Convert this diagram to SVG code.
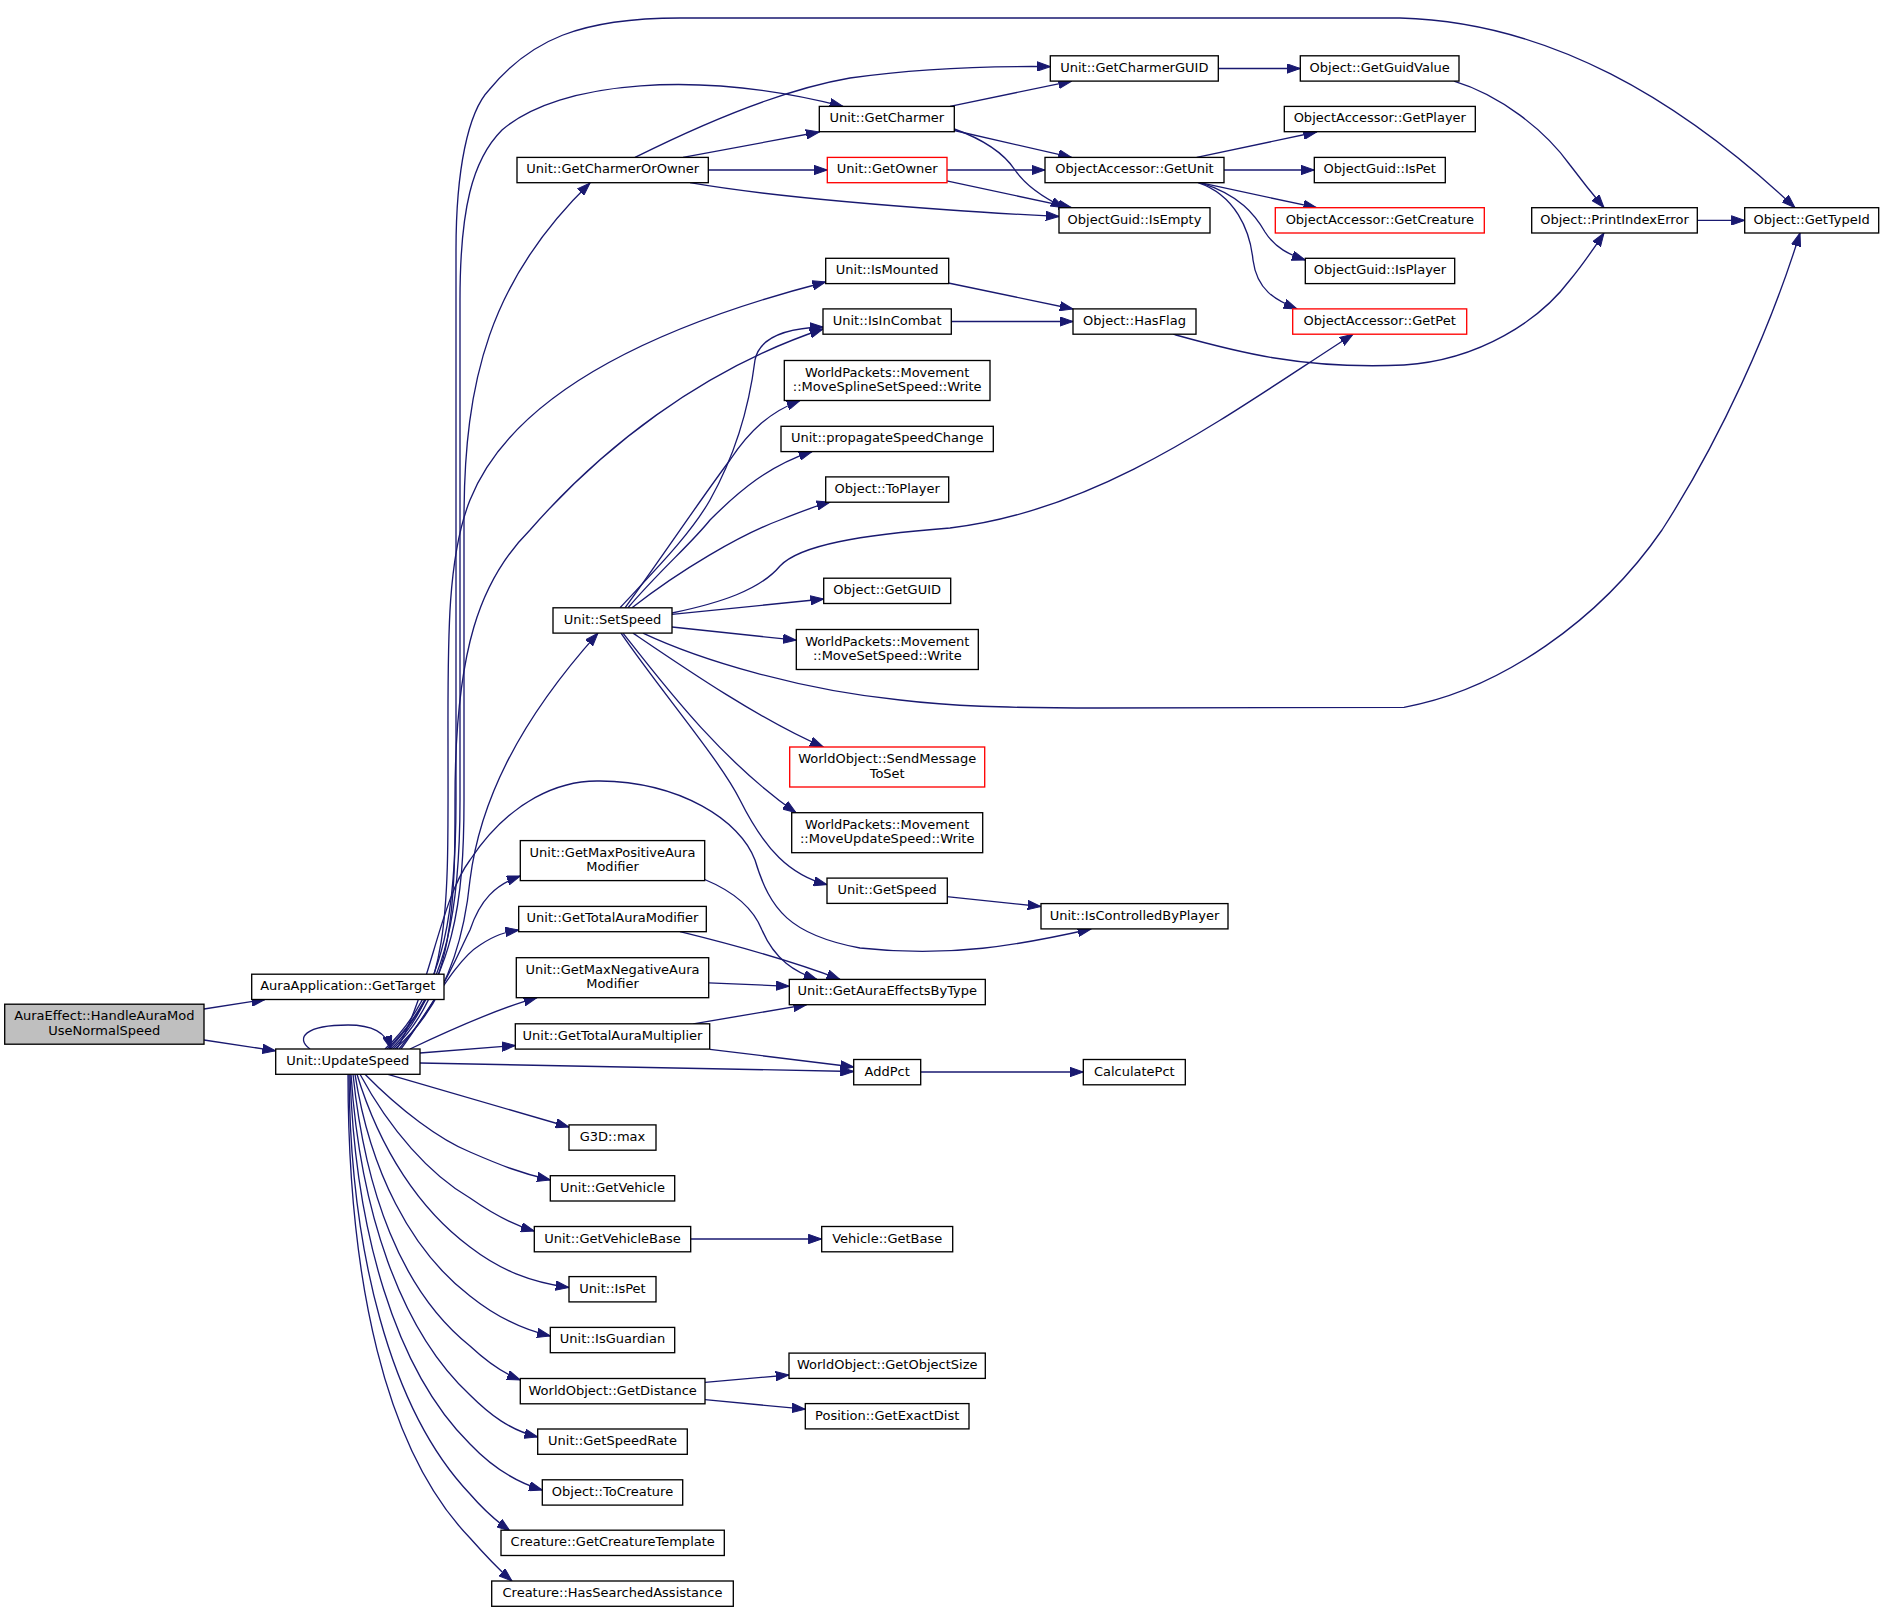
<svg xmlns="http://www.w3.org/2000/svg" width="1884" height="1613" viewBox="0 0 1884 1613">
<style>
.n rect{fill:#ffffff;stroke:#000000;stroke-width:1.33}
.n.r rect{stroke:#ff0000}
.n.root rect{fill:#bfbfbf}
.n text{font-family:"DejaVu Sans",sans-serif;font-size:13px;text-anchor:middle;fill:#000000}
#edges path{fill:none;stroke:#191970;stroke-width:1.33;marker-end:url(#ah)}
</style>
<defs>
<marker id="ah" viewBox="0 0 14 10" refX="13.3" refY="5" markerWidth="14" markerHeight="10" markerUnits="userSpaceOnUse" orient="auto"><path d="M0,0.33 L13.3,5 L0,9.67 Z" fill="#191970" stroke="#191970" stroke-width="1"/></marker>
</defs>
<rect width="1884" height="1613" fill="#ffffff"/>
<g id="edges">
<path d="M204,1009 L265,999.5"/>
<path d="M204,1040 L275.7,1050.8"/>
<path d="M310,1049 C295,1038 305,1025 348,1025 C372,1025 386,1032 391,1049"/>
<path d="M389,1049 C455,980 464,900 464,800 L464,520 C464,380 490,280 590,183"/>
<path d="M387,1049 C450,990 460,900 460,800 L460,300 C460,210 472,160 502,130 C560,80 700,70 843,106.4"/>
<path d="M385,1049 C448,990 456,900 456,800 L456,250 C456,170 468,112 489,90 C530,40 580,18 680,18 L1400,18 C1550,22 1680,100 1795,207.7"/>
<path d="M391,1049 C452,990 448,900 448,750 C448,650 446,560 470,500 C510,400 640,330 825.7,282"/>
<path d="M393,1049 C455,990 455,900 455,800 C455,650 480,580 530,530 C600,450 700,370 823,329"/>
<path d="M395,1049 C440,1010 463,950 470,880 C480,800 520,720 598,633.1"/>
<path d="M397,1049 C430,990 440,900 470,860 C510,800 560,780 600,781 C680,782 740,820 755,860 C770,910 790,935 860,948 C950,958 1020,945 1091,929"/>
<path d="M399,1049 C440,1000 455,960 470,930 C480,900 495,885 520.3,876"/>
<path d="M401,1049 C430,1010 455,960 480,945 C495,935 505,932 518.7,930"/>
<path d="M410,1049 C450,1030 500,1008 537,997.6"/>
<path d="M420,1053 L515.3,1045.5"/>
<path d="M420,1063 C600,1066 750,1070 853.7,1071.5"/>
<path d="M388,1074.3 C450,1092 510,1110 569,1127"/>
<path d="M365,1074.3 C400,1110 440,1140 470,1152 C500,1165 520,1173 550.3,1180"/>
<path d="M360,1074.3 C390,1130 430,1175 470,1198 C490,1212 510,1224 534.3,1231"/>
<path d="M357,1074.3 C380,1150 420,1210 470,1247 C500,1270 530,1282 569,1287.5"/>
<path d="M355,1074.3 C370,1170 410,1250 470,1296 C495,1316 520,1329 550.3,1336"/>
<path d="M353,1074.3 C365,1190 400,1290 470,1346 C485,1360 500,1372 520.3,1380"/>
<path d="M351,1074.3 C360,1210 400,1330 470,1395 C490,1415 510,1430 537.7,1437"/>
<path d="M350,1074.3 C355,1230 395,1370 470,1444 C490,1465 515,1482 542.3,1490"/>
<path d="M349,1074.3 C350,1250 390,1410 470,1494 C482,1508 495,1520 510,1531"/>
<path d="M348,1074.3 C348,1280 385,1450 470,1538 C485,1555 497,1568 512,1581"/>
<path d="M635,157.4 C700,125 780,90 850,78 C920,68 990,66 1050.3,66.6"/>
<path d="M683,157.4 L819.3,132"/>
<path d="M708.3,170 L827.3,170"/>
<path d="M690,182.7 C760,195 880,205 950,210 C990,213 1030,215 1059,216.5"/>
<path d="M950,106.4 L1071.7,81.1"/>
<path d="M954.3,130.5 L1071.7,157.4"/>
<path d="M954.3,129 C985,140 1005,155 1015,170 C1025,185 1040,196 1064,207.7"/>
<path d="M947,170 L1045,170"/>
<path d="M946.7,180.8 L1071.7,207.7"/>
<path d="M1196.7,157.4 L1316.7,132"/>
<path d="M1224,170 L1314.3,170"/>
<path d="M1200,182.7 L1316.7,207.7"/>
<path d="M1200,182.7 C1240,195 1255,215 1265,232 C1275,248 1290,255 1305.3,260"/>
<path d="M1198,182.7 C1235,195 1250,230 1253,260 C1257,290 1275,300 1297,308.9"/>
<path d="M1218.3,68.5 L1300.3,68.5"/>
<path d="M1454,81.1 C1500,95 1545,130 1570,165 C1585,185 1595,197 1604,207.7"/>
<path d="M1697.3,220.4 L1744.7,220.4"/>
<path d="M1173,334.2 C1230,350 1300,370 1404,365 C1480,360 1540,320 1570,280 C1585,262 1596,245 1604,233"/>
<path d="M948.3,283 L1073,309"/>
<path d="M951.3,321.5 L1073,321.5"/>
<path d="M946.7,896.7 L1041,906.5"/>
<path d="M704.7,879.5 C730,890 752,905 762,930 C775,960 795,972 817,979.4"/>
<path d="M680,931.7 C730,944 790,960 840,979.4"/>
<path d="M708.7,982.8 L789.3,986.3"/>
<path d="M693.3,1023.8 L806.7,1004.7"/>
<path d="M710,1049.3 L853.7,1067"/>
<path d="M920.7,1072 L1083.3,1072"/>
<path d="M690.7,1239 L821.7,1239"/>
<path d="M705,1382.3 L789,1375"/>
<path d="M705,1399.7 L805.3,1409.2"/>
<path d="M620,607.8 C655,570 690,535 710,500 C738,450 750,400 755,360 C760,335 790,328 823,327"/>
<path d="M625,607.8 C660,560 700,500 730,460 C750,430 770,412 800,400.5"/>
<path d="M628,607.8 C660,570 690,545 710,520 C740,490 770,465 812,451.6"/>
<path d="M632,607.8 C680,570 740,535 780,520 C800,512 815,506 830,502.2"/>
<path d="M672,613 C720,603 760,590 780,566 C800,545 860,535 950,528 C1100,510 1220,420 1353,334.2"/>
<path d="M672,614.4 L823.7,599"/>
<path d="M672,627 L796.3,640.2"/>
<path d="M643,633.1 C700,660 800,690 900,700 C950,706 1000,708 1100,708 L1404,707.3 C1500,690 1600,620 1662,530 C1720,440 1770,330 1800,233"/>
<path d="M633,633.1 C680,665 760,720 823.3,747"/>
<path d="M623,633.1 C660,680 720,760 796,812.7"/>
<path d="M621,633.1 C660,690 720,760 740,800 C765,850 790,875 827,884.7"/>
</g>
<g id="n_root" class="n root"><rect x="4.7" y="1004.2" width="199.3" height="40"/><text x="104.3" y="1020.2">AuraEffect::HandleAuraMod</text><text x="104.3" y="1034.9">UseNormalSpeed</text></g>
<g id="n_target" class="n"><rect x="251.7" y="974.2" width="192.3" height="25.3"/><text x="347.8" y="990.2">AuraApplication::GetTarget</text></g>
<g id="n_update" class="n"><rect x="275.7" y="1049" width="144.3" height="25.3"/><text x="347.8" y="1065">Unit::UpdateSpeed</text></g>
<g id="n_cho" class="n"><rect x="517" y="157.4" width="191.3" height="25.3"/><text x="612.7" y="173.4">Unit::GetCharmerOrOwner</text></g>
<g id="n_charmer" class="n"><rect x="819.3" y="106.4" width="135" height="25.3"/><text x="886.8" y="122.4">Unit::GetCharmer</text></g>
<g id="n_cguid" class="n"><rect x="1050.3" y="55.8" width="168" height="25.3"/><text x="1134.3" y="71.8">Unit::GetCharmerGUID</text></g>
<g id="n_guidval" class="n"><rect x="1300.3" y="55.8" width="158.7" height="25.3"/><text x="1379.7" y="71.8">Object::GetGuidValue</text></g>
<g id="n_getplayer" class="n"><rect x="1284.3" y="106.4" width="191" height="25.3"/><text x="1379.8" y="122.4">ObjectAccessor::GetPlayer</text></g>
<g id="n_owner" class="n r"><rect x="827.3" y="157.4" width="119.7" height="25.3"/><text x="887.2" y="173.4">Unit::GetOwner</text></g>
<g id="n_getunit" class="n"><rect x="1045" y="157.4" width="179" height="25.3"/><text x="1134.5" y="173.4">ObjectAccessor::GetUnit</text></g>
<g id="n_guidispet" class="n"><rect x="1314.3" y="157.4" width="131" height="25.3"/><text x="1379.8" y="173.4">ObjectGuid::IsPet</text></g>
<g id="n_isempty" class="n"><rect x="1059" y="207.7" width="151" height="25.3"/><text x="1134.5" y="223.7">ObjectGuid::IsEmpty</text></g>
<g id="n_getcreature" class="n r"><rect x="1275.3" y="207.7" width="209" height="25.3"/><text x="1379.8" y="223.7">ObjectAccessor::GetCreature</text></g>
<g id="n_printidx" class="n"><rect x="1531.7" y="207.7" width="165.6" height="25.3"/><text x="1614.5" y="223.7">Object::PrintIndexError</text></g>
<g id="n_typeid" class="n"><rect x="1744.7" y="207.7" width="134" height="25.3"/><text x="1811.7" y="223.7">Object::GetTypeId</text></g>
<g id="n_ismounted" class="n"><rect x="825.7" y="258.3" width="123" height="25.3"/><text x="887.2" y="274.3">Unit::IsMounted</text></g>
<g id="n_isplayer" class="n"><rect x="1305.3" y="258.3" width="149.4" height="25.3"/><text x="1380" y="274.3">ObjectGuid::IsPlayer</text></g>
<g id="n_isincombat" class="n"><rect x="823" y="308.9" width="128.3" height="25.3"/><text x="887.2" y="324.9">Unit::IsInCombat</text></g>
<g id="n_hasflag" class="n"><rect x="1073" y="308.9" width="123" height="25.3"/><text x="1134.5" y="324.9">Object::HasFlag</text></g>
<g id="n_getpet" class="n r"><rect x="1292.7" y="308.9" width="174" height="25.3"/><text x="1379.7" y="324.9">ObjectAccessor::GetPet</text></g>
<g id="n_msss" class="n"><rect x="784.3" y="360.5" width="205.7" height="40"/><text x="887.2" y="376.5">WorldPackets::Movement</text><text x="887.2" y="391.2">::MoveSplineSetSpeed::Write</text></g>
<g id="n_prop" class="n"><rect x="781" y="426.3" width="212.3" height="25.3"/><text x="887.2" y="442.3">Unit::propagateSpeedChange</text></g>
<g id="n_toplayer" class="n"><rect x="825.7" y="476.9" width="123" height="25.3"/><text x="887.2" y="492.9">Object::ToPlayer</text></g>
<g id="n_getguid" class="n"><rect x="823.7" y="578.2" width="127" height="25.3"/><text x="887.2" y="594.2">Object::GetGUID</text></g>
<g id="n_setspeed" class="n"><rect x="553" y="607.8" width="119" height="25.3"/><text x="612.5" y="623.8">Unit::SetSpeed</text></g>
<g id="n_mss" class="n"><rect x="796.3" y="629.5" width="182" height="40"/><text x="887.3" y="645.5">WorldPackets::Movement</text><text x="887.3" y="660.2">::MoveSetSpeed::Write</text></g>
<g id="n_sendmsg" class="n r"><rect x="789.7" y="747" width="195" height="40"/><text x="887.2" y="763">WorldObject::SendMessage</text><text x="887.2" y="777.7">ToSet</text></g>
<g id="n_mus" class="n"><rect x="791.7" y="812.7" width="191" height="40"/><text x="887.2" y="828.7">WorldPackets::Movement</text><text x="887.2" y="843.4">::MoveUpdateSpeed::Write</text></g>
<g id="n_getspeed" class="n"><rect x="827" y="878.1" width="120.3" height="25.3"/><text x="887.2" y="894.1">Unit::GetSpeed</text></g>
<g id="n_icbp" class="n"><rect x="1041" y="903.6" width="187" height="25.3"/><text x="1134.5" y="919.6">Unit::IsControlledByPlayer</text></g>
<g id="n_maxpos" class="n"><rect x="520.3" y="840.6" width="184.4" height="40"/><text x="612.5" y="856.6">Unit::GetMaxPositiveAura</text><text x="612.5" y="871.3">Modifier</text></g>
<g id="n_totalmod" class="n"><rect x="518.7" y="906.4" width="187.6" height="25.3"/><text x="612.5" y="922.4">Unit::GetTotalAuraModifier</text></g>
<g id="n_maxneg" class="n"><rect x="516.3" y="957.7" width="192.4" height="40"/><text x="612.5" y="973.7">Unit::GetMaxNegativeAura</text><text x="612.5" y="988.4">Modifier</text></g>
<g id="n_aebt" class="n"><rect x="789.3" y="979.4" width="196" height="25.3"/><text x="887.3" y="995.4">Unit::GetAuraEffectsByType</text></g>
<g id="n_totalmult" class="n"><rect x="515.3" y="1023.8" width="194.4" height="25.3"/><text x="612.5" y="1039.8">Unit::GetTotalAuraMultiplier</text></g>
<g id="n_addpct" class="n"><rect x="853.7" y="1059.5" width="67" height="25.3"/><text x="887.2" y="1075.5">AddPct</text></g>
<g id="n_calcpct" class="n"><rect x="1083.3" y="1059.5" width="102" height="25.3"/><text x="1134.3" y="1075.5">CalculatePct</text></g>
<g id="n_g3dmax" class="n"><rect x="569" y="1124.9" width="87" height="25.3"/><text x="612.5" y="1140.9">G3D::max</text></g>
<g id="n_getvehicle" class="n"><rect x="550.3" y="1175.7" width="124.4" height="25.3"/><text x="612.5" y="1191.7">Unit::GetVehicle</text></g>
<g id="n_getvehiclebase" class="n"><rect x="534.3" y="1226.5" width="156.4" height="25.3"/><text x="612.5" y="1242.5">Unit::GetVehicleBase</text></g>
<g id="n_vehgetbase" class="n"><rect x="821.7" y="1226.5" width="131" height="25.3"/><text x="887.2" y="1242.5">Vehicle::GetBase</text></g>
<g id="n_ispet" class="n"><rect x="569" y="1276.6" width="87" height="25.3"/><text x="612.5" y="1292.6">Unit::IsPet</text></g>
<g id="n_isguardian" class="n"><rect x="550.3" y="1327.4" width="124.4" height="25.3"/><text x="612.5" y="1343.4">Unit::IsGuardian</text></g>
<g id="n_objsize" class="n"><rect x="789" y="1353.1" width="196.3" height="25.3"/><text x="887.2" y="1369.1">WorldObject::GetObjectSize</text></g>
<g id="n_getdist" class="n"><rect x="520.3" y="1378.5" width="184.7" height="25.3"/><text x="612.7" y="1394.5">WorldObject::GetDistance</text></g>
<g id="n_exactdist" class="n"><rect x="805.3" y="1403.6" width="163.7" height="25.3"/><text x="887.2" y="1419.6">Position::GetExactDist</text></g>
<g id="n_speedrate" class="n"><rect x="537.7" y="1429" width="149.6" height="25.3"/><text x="612.5" y="1445">Unit::GetSpeedRate</text></g>
<g id="n_tocreature" class="n"><rect x="542.3" y="1479.8" width="140.4" height="25.3"/><text x="612.5" y="1495.8">Object::ToCreature</text></g>
<g id="n_creaturetmpl" class="n"><rect x="501" y="1530.2" width="223.3" height="25.3"/><text x="612.7" y="1546.2">Creature::GetCreatureTemplate</text></g>
<g id="n_hassearched" class="n"><rect x="491.7" y="1581" width="241.6" height="25.3"/><text x="612.5" y="1597">Creature::HasSearchedAssistance</text></g>
</svg>
